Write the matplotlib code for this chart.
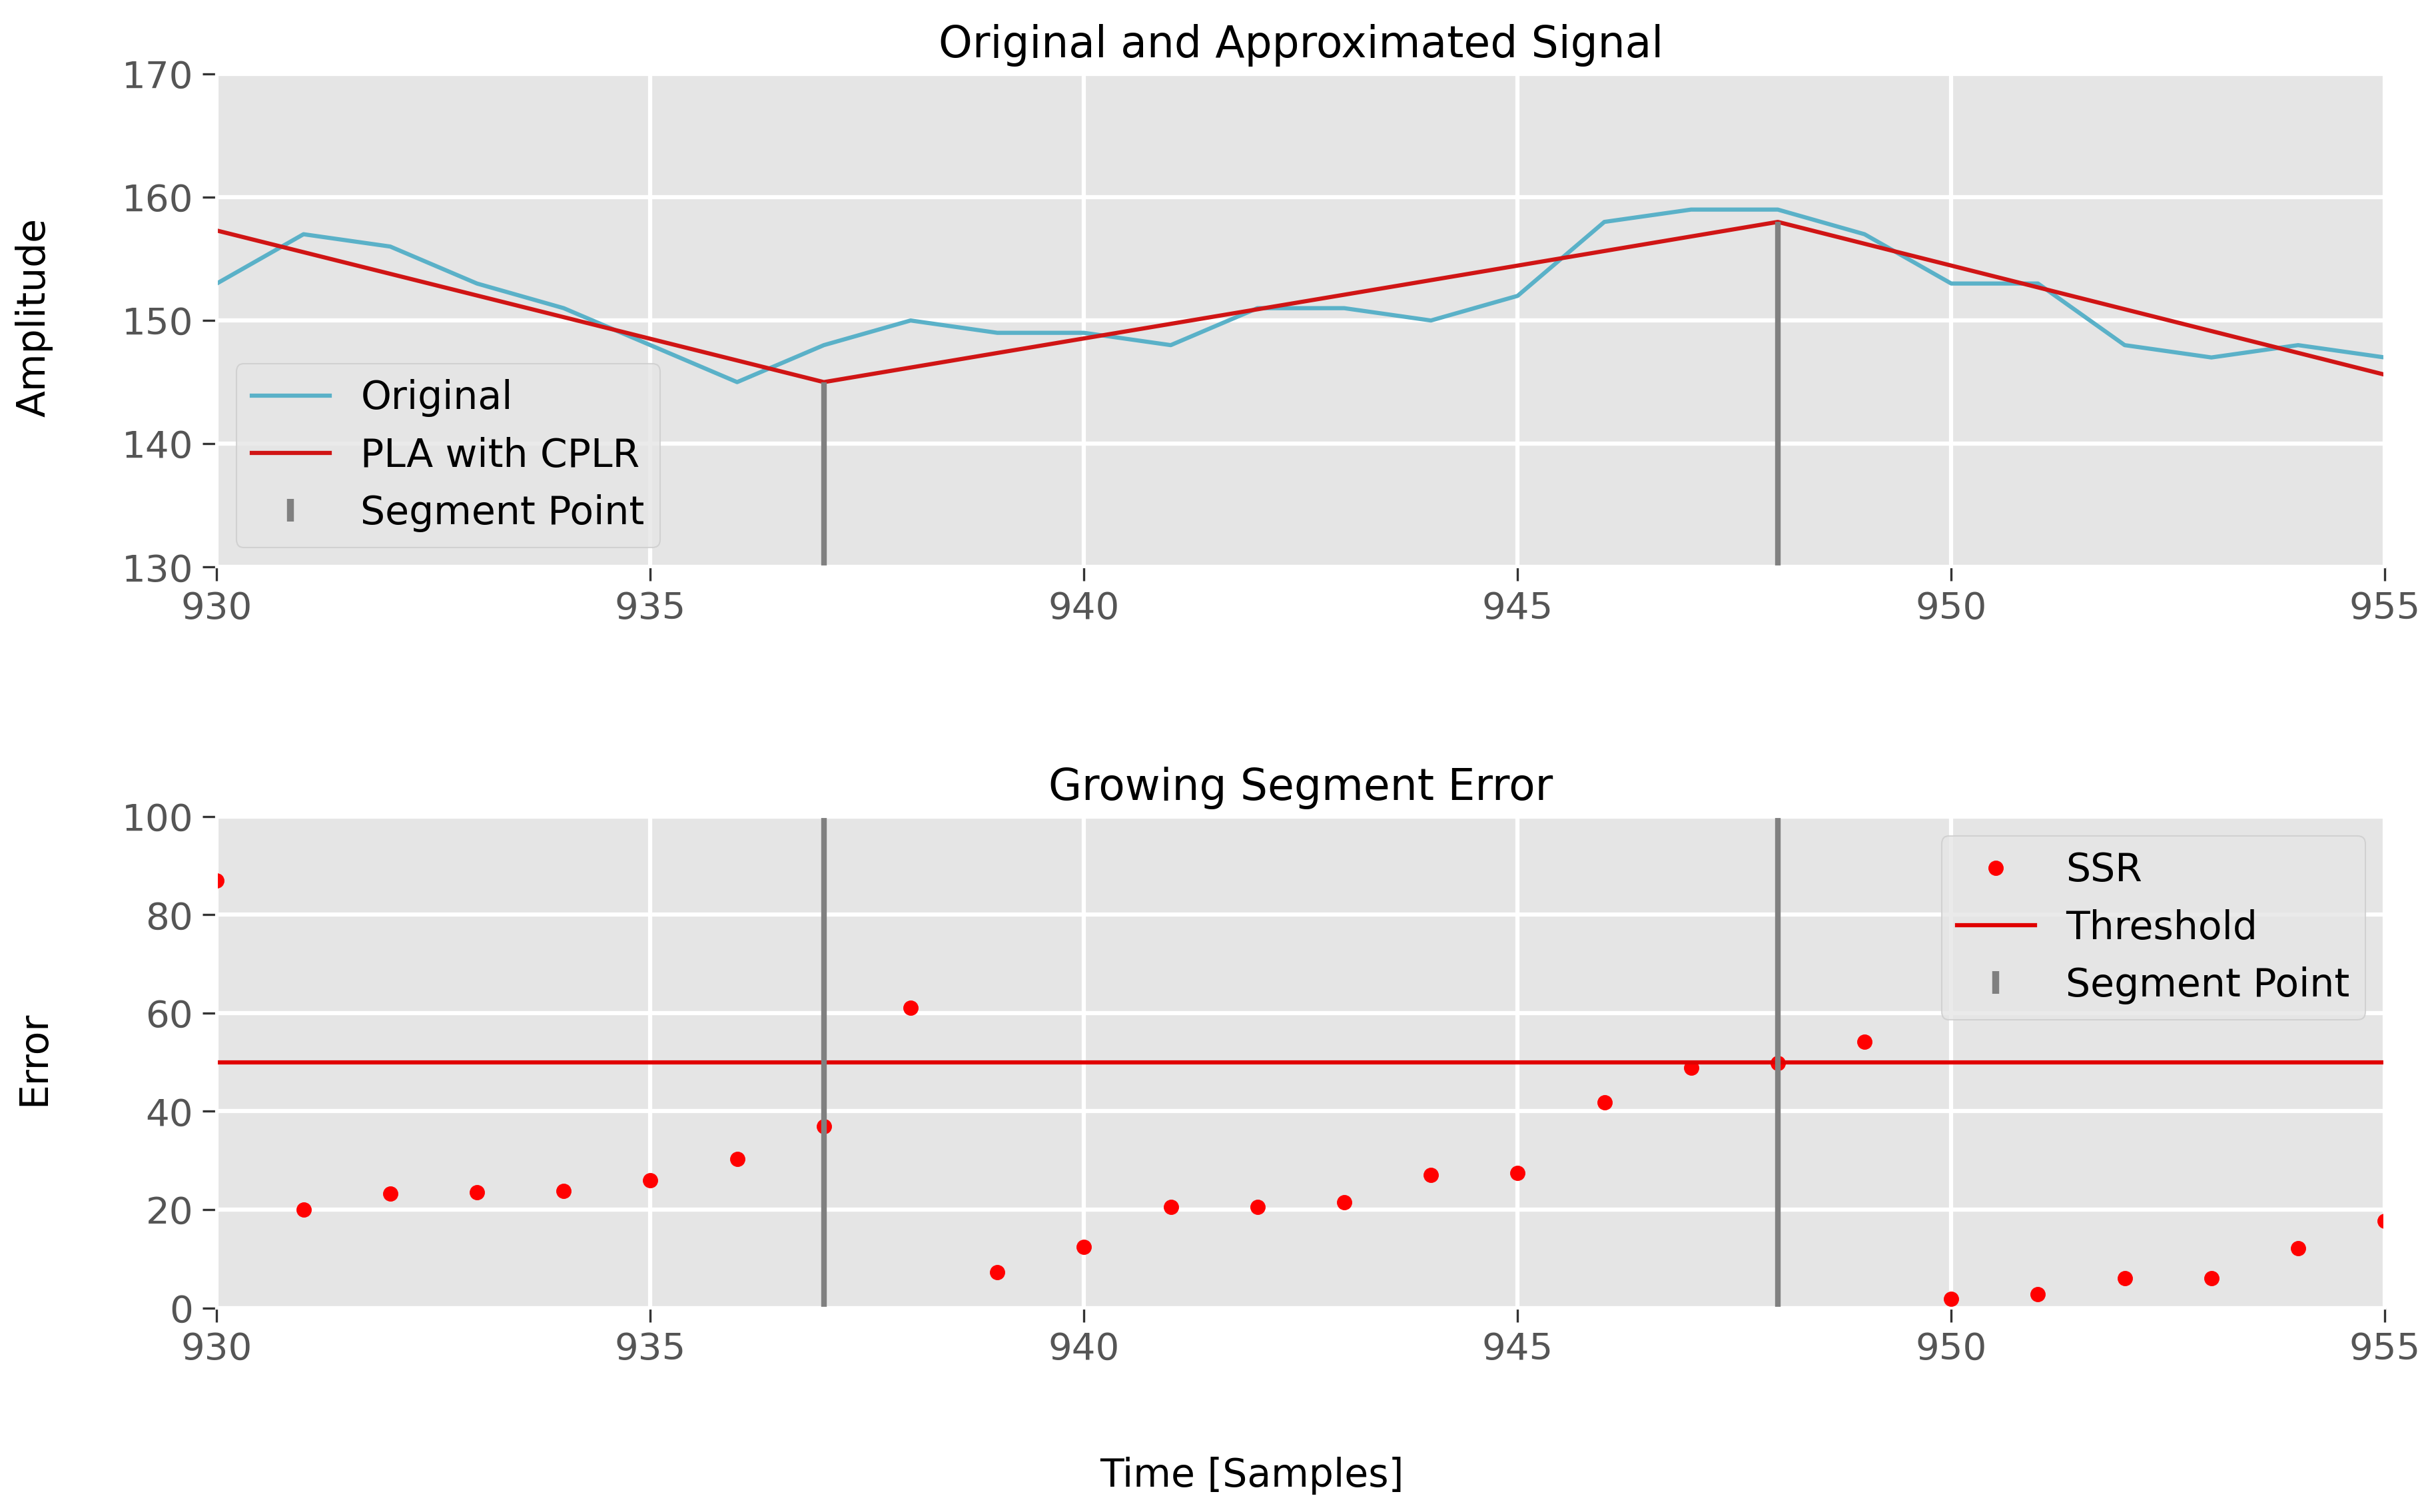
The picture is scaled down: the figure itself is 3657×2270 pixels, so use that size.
import numpy as np
import matplotlib
matplotlib.use('Agg')
from matplotlib import pyplot as plt

plt.style.use('ggplot')
plt.rcParams['grid.linewidth'] = 1.5

samples = list(range(930, 956))
original = [153, 157, 156, 153, 151, 148, 145, 148, 150, 149, 149, 148, 151,
            151, 150, 152, 158, 159, 159, 157, 153, 153, 148, 147, 148, 147]
pla_x = [930, 937, 948, 955]
pla_y = [157.3, 145, 158, 145.6]
seg_points = [937, 948]
seg_values = [145, 158]
ssr = [87, 20, 23.3, 23.5, 23.8, 26, 30.3, 37, 61, 7.3, 12.4, 20.5, 20.5,
       21.5, 27, 27.5, 41.8, 48.8, 49.8, 54.2, 1.8, 2.8, 6, 6, 12.2, 17.7]
threshold = 50

fig = plt.figure(figsize=(12.19, 7.567), dpi=300)
ax1 = fig.add_axes([0.089, 0.625, 0.89, 0.326])
ax2 = fig.add_axes([0.089, 0.135, 0.89, 0.325])

ax1.plot(samples, original, color='#5ab1c8', lw=1.5, label='Original')
ax1.plot(pla_x, pla_y, color='#d01515', lw=1.5, label='PLA with CPLR')
ax1.vlines(seg_points, 130, seg_values, color='grey', lw=2)
ax1.plot([], [], ls='none', marker='|', ms=8, mew=2.5, color='grey', label='Segment Point')
ax1.set_xlim(930, 955)
ax1.set_ylim(130, 170)
ax1.set_title('Original and Approximated Signal', fontsize=15.5)
ax1.legend(loc='lower left', fontsize=14, facecolor='#e5e5e5', edgecolor='#cccccc')

ax2.plot(samples, ssr, ls='none', marker='o', ms=4.5, color='red', label='SSR')
ax2.axhline(threshold, color='#e00000', lw=1.5, label='Threshold')
for s in seg_points:
    ax2.axvline(s, color='grey', lw=2)
ax2.plot([], [], ls='none', marker='|', ms=8, mew=2.5, color='grey', label='Segment Point')
ax2.set_xlim(930, 955)
ax2.set_ylim(0, 100)
ax2.set_title('Growing Segment Error', fontsize=15.5)
ax2.legend(loc='upper right', fontsize=14, facecolor='#e5e5e5', edgecolor='#cccccc')

for ax in (ax1, ax2):
    ax.tick_params(labelsize=13.5, direction='out', length=5, color='#333333')
    ax.set_xticks(range(930, 956, 5))

fig.text(0.014, 0.79, 'Amplitude', rotation=90, ha='center', va='center', fontsize=14)
fig.text(0.014, 0.30, 'Error', rotation=90, ha='center', va='center', fontsize=14)
fig.text(0.514, 0.024, 'Time [Samples]', ha='center', va='center', fontsize=14)

fig.savefig('out.png', dpi=300)
